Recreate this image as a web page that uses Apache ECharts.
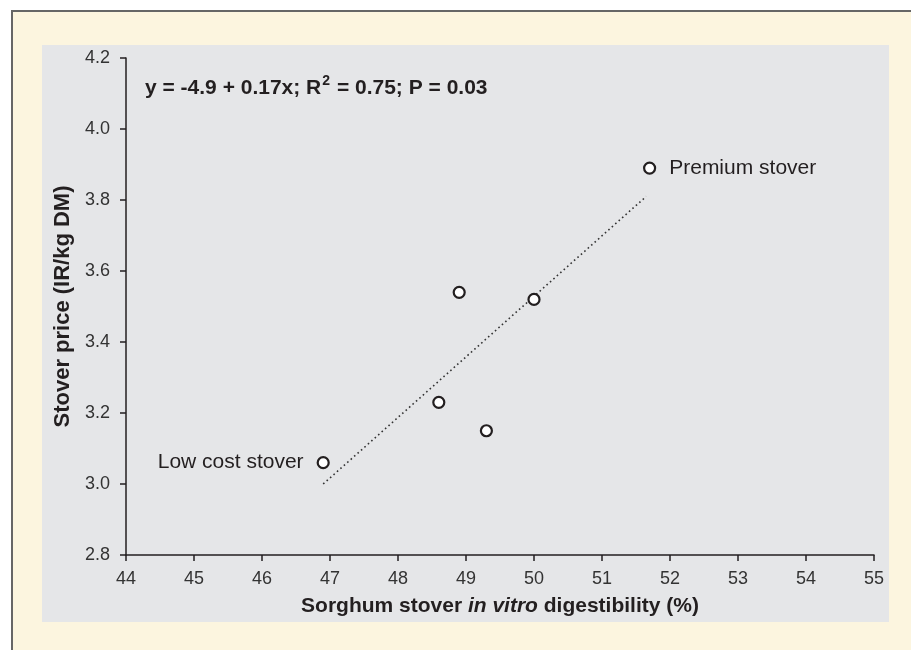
<!DOCTYPE html>
<html>
<head>
<meta charset="utf-8">
<script src="https://cdn.jsdelivr.net/npm/echarts@6/dist/echarts.min.js"></script>
<style>
  html, body { margin: 0; padding: 0; background: #ffffff; width: 911px; height: 650px; overflow: hidden; }
  #frame { position: absolute; left: 11px; top: 10px; width: 1000px; height: 800px; background: #fcf5df; border-left: 2px solid #666; border-top: 2px solid #666; }
  #panel { position: absolute; left: 42px; top: 45px; width: 847px; height: 577px; background: #e5e6e8; }
  #chart { position: absolute; left: 0; top: 0; width: 911px; height: 650px; }
</style>
</head>
<body>
<div id="frame"></div>
<div id="panel"></div>
<div id="chart"></div>
<script>
// Data
const digestibility = [46.9, 48.6, 48.9, 49.3, 50.0, 51.7];
const stoverPrice   = [3.06, 3.23, 3.54, 3.15, 3.52, 3.89];
const pointNames    = ['Low cost stover', '', '', '', '', 'Premium stover'];
const trendX = [46.9, 51.65];
const trendY = [3.00, 3.81];
const xTicks = [44, 45, 46, 47, 48, 49, 50, 51, 52, 53, 54, 55];
const yTicks = [2.8, 3.0, 3.2, 3.4, 3.6, 3.8, 4.0, 4.2];
const equationText = ['y = -4.9 + 0.17x; R', '2', ' = 0.75; P = 0.03'];
const xAxisTitle = ['Sorghum stover ', 'in vitro', ' digestibility (%)'];
const yAxisTitle = 'Stover price (IR/kg DM)';

const FONT = '"Liberation Sans", Arial, Helvetica, sans-serif';
const INK = '#231f20';

const chart = echarts.init(document.getElementById('chart'), null, { renderer: 'canvas' });

const scatterData = digestibility.map((x, i) => {
  const item = { value: [x, stoverPrice[i]] };
  if (pointNames[i]) {
    item.label = {
      show: true,
      formatter: pointNames[i],
      position: i === 0 ? 'left' : 'right',
      distance: 13,
      color: INK,
      fontSize: 21,
      fontFamily: FONT
    };
  }
  return item;
});

const option = {
  backgroundColor: 'transparent',
  animation: false,
  grid: { left: 126, top: 58, right: 37, bottom: 95, containLabel: false },
  xAxis: {
    type: 'value',
    min: xTicks[0],
    max: xTicks[xTicks.length - 1],
    interval: 1,
    splitLine: { show: false },
    axisLine: { show: true, lineStyle: { color: INK, width: 1.5 } },
    axisTick: { show: true, length: 6, inside: false, lineStyle: { color: INK, width: 1.5 } },
    axisLabel: { color: '#333', fontSize: 18, fontFamily: FONT, margin: 15 },
    name: '{b|' + xAxisTitle[0] + '}{i|' + xAxisTitle[1] + '}{b|' + xAxisTitle[2] + '}',
    nameLocation: 'middle',
    nameGap: 41,
    nameTextStyle: {
      rich: {
        b: { fontSize: 21, fontWeight: 'bold', fontFamily: FONT, color: INK },
        i: { fontSize: 21, fontWeight: 'bold', fontStyle: 'italic', fontFamily: FONT, color: INK }
      }
    }
  },
  yAxis: {
    type: 'value',
    min: yTicks[0],
    max: yTicks[yTicks.length - 1],
    interval: 0.2,
    splitLine: { show: false },
    axisLine: { show: true, lineStyle: { color: INK, width: 1.5 } },
    axisTick: { show: true, length: 6, inside: false, lineStyle: { color: INK, width: 1.5 } },
    axisLabel: { color: '#333', fontSize: 18, fontFamily: FONT, margin: 16, formatter: v => v.toFixed(1) },
    name: yAxisTitle,
    nameLocation: 'middle',
    nameGap: 51,
    nameTextStyle: { fontSize: 22, fontWeight: 'bold', fontFamily: FONT, color: INK }
  },
  graphic: [{
    type: 'text',
    left: 145,
    top: 74,
    style: {
      text: '{t|' + equationText[0] + '}{s|' + equationText[1] + '}{t|' + equationText[2] + '}',
      rich: {
        t: { fontSize: 21, fontWeight: 'bold', fontFamily: FONT, fill: INK, lineHeight: 25, verticalAlign: 'bottom' },
        s: { fontSize: 14, fontWeight: 'bold', fontFamily: FONT, fill: INK, lineHeight: 25, verticalAlign: 'top', padding: [0, 1, 0, 1] }
      }
    }
  }],
  series: [
    {
      type: 'line',
      data: trendX.map((x, i) => [x, trendY[i]]),
      symbol: 'none',
      silent: true,
      z: 1,
      lineStyle: { color: '#333', width: 1.6, type: [1.6, 3] }
    },
    {
      type: 'scatter',
      data: scatterData,
      symbol: 'circle',
      symbolSize: 11,
      z: 3,
      itemStyle: { color: '#ffffff', borderColor: INK, borderWidth: 2.2, opacity: 1 }
    }
  ]
};

chart.setOption(option);
</script>
</body>
</html>
